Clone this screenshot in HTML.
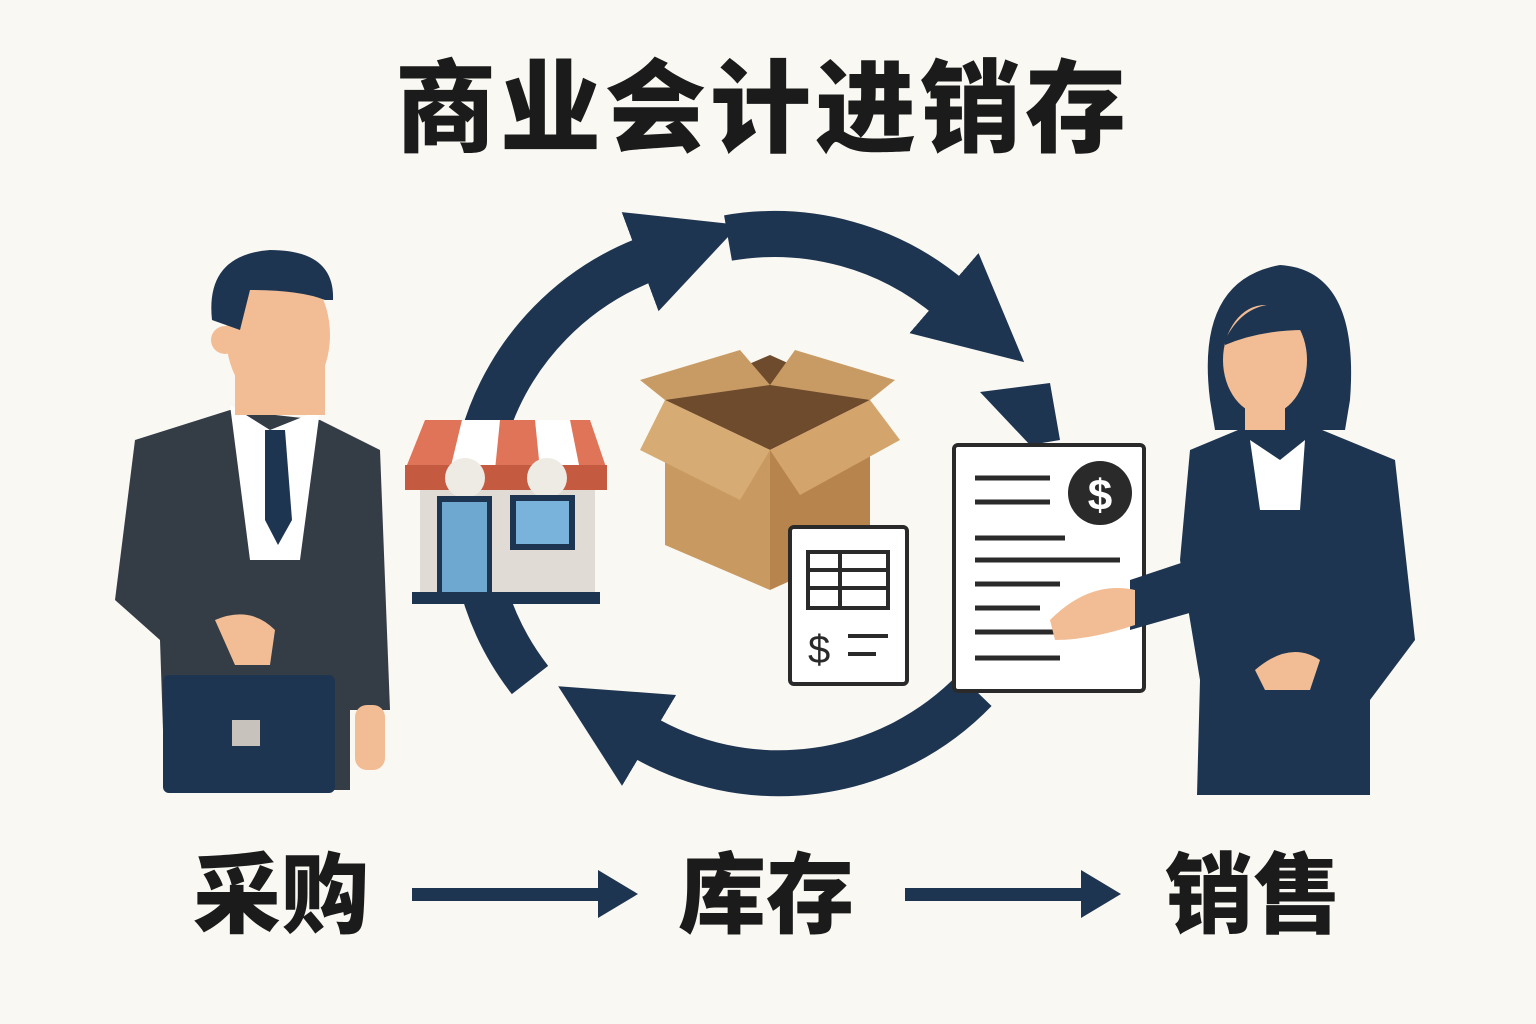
<!DOCTYPE html>
<html><head><meta charset="utf-8"><style>
html,body{margin:0;padding:0;background:#faf8f3;}
body{width:1536px;height:1024px;overflow:hidden;position:relative;font-family:"Liberation Sans","Noto Sans CJK SC",sans-serif;}
.t{position:absolute;font-weight:900;color:#1b1b1b;font-family:"Liberation Sans","Noto Sans CJK SC",sans-serif;white-space:nowrap;}
</style></head><body>
<svg width="1536" height="1024" style="position:absolute;left:0;top:0">
<defs>
<marker id="ah" markerWidth="2.3" markerHeight="2.4" viewBox="0 0 10 10" refX="1" refY="5" orient="auto" markerUnits="strokeWidth">
<path d="M0 0 L10 5 L0 10 z" fill="#1e3551"/></marker>
</defs>
<g fill="none" stroke="#1e3551" stroke-width="46">
<path d="M530 680 A272 272 0 0 1 650 258" marker-end="url(#ah)"/>
<path d="M728 238 A272 272 0 0 1 952 300" marker-end="url(#ah)"/>
<path d="M975 690 A272 272 0 0 1 640 735" marker-end="url(#ah)"/>
</g>
<path d="M980 392 L1050 383 L1060 440 L1030 445 Z" fill="#1e3551"/>
<!-- man -->
<g>
<path d="M135 440 L230 410 L320 420 L380 450 L390 710 L350 710 L350 790 L165 790 L160 640 L115 600 Z" fill="#343c46"/>
<path d="M230 405 L270 430 L320 410 L300 560 L250 560 Z" fill="#fff"/>
<path d="M265 430 L285 430 L292 520 L278 545 L265 520 Z" fill="#1e3551"/>
<rect x="235" y="320" width="90" height="95" fill="#f2bd94"/>
<ellipse cx="278" cy="335" rx="52" ry="72" fill="#f2bd94"/>
<path d="M212 320 Q205 255 270 250 Q335 250 333 300 L325 300 Q300 290 250 290 L240 330 Z" fill="#1e3551"/>
<circle cx="225" cy="340" r="14" fill="#f2bd94"/>
<rect x="355" y="705" width="30" height="65" rx="12" fill="#f2bd94"/>
<path d="M215 620 Q250 605 275 630 L270 665 L235 665 Z" fill="#f2bd94"/>
<rect x="163" y="675" width="172" height="118" rx="6" fill="#1e3551"/>
<rect x="232" y="720" width="28" height="26" fill="#c8c2bc"/>
</g>
<!-- store -->
<g>
<rect x="420" y="480" width="175" height="115" fill="#e0dbd4"/>
<path d="M425 420 L590 420 L607 470 L405 470 Z" fill="#e07458"/>
<path d="M462 420 L450 470 L495 470 L500 420 Z M535 420 L540 470 L580 470 L570 420 Z" fill="#fff"/>
<rect x="405" y="465" width="202" height="25" fill="#c45a40"/>
<circle cx="465" cy="478" r="20" fill="#eeeae4"/><circle cx="547" cy="478" r="20" fill="#eeeae4"/>
<rect x="437" y="496" width="55" height="100" fill="#1e3551"/><rect x="442" y="502" width="45" height="94" fill="#6ea8d0"/>
<rect x="510" y="495" width="65" height="55" fill="#1e3551"/><rect x="516" y="501" width="53" height="43" fill="#79b3dc"/>
<rect x="412" y="592" width="188" height="12" fill="#1e3551"/>
</g>
<!-- box -->
<g>
<path d="M665 400 L770 355 L870 400 L770 450 Z" fill="#6e4b2c"/>
<path d="M665 400 L770 450 L770 590 L665 545 Z" fill="#c89a62"/>
<path d="M770 450 L870 400 L870 545 L770 590 Z" fill="#b8844e"/>
<path d="M665 400 L640 450 L740 500 L770 450 Z" fill="#d6ab74"/>
<path d="M870 400 L900 440 L800 495 L770 450 Z" fill="#d3a56c"/>
<path d="M665 400 L640 380 L740 350 L770 385 Z" fill="#c99b64"/>
<path d="M770 385 L795 350 L895 380 L870 400 Z" fill="#c99b64"/>
</g>
<!-- receipt -->
<g>
<rect x="790" y="527" width="117" height="157" rx="4" fill="#fff" stroke="#2a2a2a" stroke-width="4"/>
<rect x="808" y="552" width="80" height="56" fill="none" stroke="#2a2a2a" stroke-width="4"/>
<path d="M808 570 H888 M808 588 H888 M840 552 V608" stroke="#2a2a2a" stroke-width="4"/>
<text x="808" y="663" font-size="40" font-family="Liberation Sans" fill="#2a2a2a">$</text>
<path d="M848 636 H888 M848 654 H876" stroke="#2a2a2a" stroke-width="4"/>
</g>
<!-- document -->
<g>
<rect x="954" y="445" width="190" height="246" rx="4" fill="#fff" stroke="#2a2a2a" stroke-width="4"/>
<circle cx="1100" cy="493" r="32" fill="#2a2a2a"/>
<text x="1100" y="510" font-size="44" font-weight="bold" text-anchor="middle" fill="#fff" font-family="Liberation Sans">$</text>
<g stroke="#2a2a2a" stroke-width="5">
<path d="M975 478 H1050 M975 502 H1050 M975 538 H1065 M975 560 H1120 M975 584 H1060 M975 608 H1040 M975 632 H1060 M975 658 H1060"/>
</g>
</g>
<!-- woman -->
<g>
<path d="M1210 400 Q1195 280 1280 265 Q1360 270 1350 400 L1345 430 L1215 430 Z" fill="#1e3551"/>
<path d="M1190 450 L1250 425 L1310 425 L1395 460 L1415 640 L1370 700 L1370 795 L1197 795 L1200 680 L1180 560 Z" fill="#1e3551"/>
<path d="M1250 440 L1280 460 L1305 440 L1300 510 L1260 510 Z" fill="#fff"/>
<path d="M1130 580 L1190 560 L1200 610 L1130 630 Z" fill="#1e3551"/>
<ellipse cx="1265" cy="360" rx="42" ry="55" fill="#f2bd94"/>
<rect x="1245" y="400" width="40" height="30" fill="#f2bd94"/>
<path d="M1225 340 Q1250 290 1305 310 L1305 330 Q1260 330 1225 345 Z" fill="#1e3551"/>
<path d="M1050 620 Q1090 580 1135 590 L1135 625 Q1090 640 1055 640 Z" fill="#f2bd94"/>
<path d="M1255 670 Q1290 640 1320 660 L1310 690 L1265 690 Z" fill="#f2bd94"/>
</g>
<!-- bottom arrows -->
<g fill="#1e3551">
<rect x="412" y="888" width="190" height="13"/><path d="M598 870 L638 894 L598 918 Z"/>
<rect x="905" y="888" width="180" height="13"/><path d="M1081 870 L1121 894 L1081 918 Z"/>
</g>
</svg>
<div class="t" style="left:395px;top:50px;font-size:101px;letter-spacing:4px;line-height:120px">商业会计进销存</div>
<div class="t" style="left:193px;top:846px;font-size:88px;line-height:100px">采购</div>
<div class="t" style="left:678px;top:846px;font-size:88px;line-height:100px">库存</div>
<div class="t" style="left:1165px;top:846px;font-size:88px;line-height:100px">销售</div>
</body></html>
